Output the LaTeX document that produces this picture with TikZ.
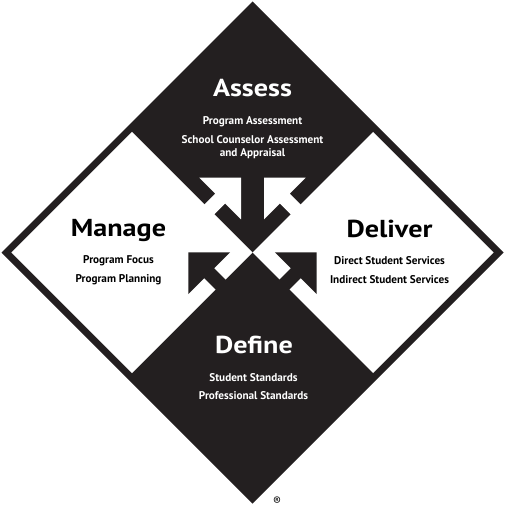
\documentclass[tikz,border=0pt]{standalone}
\usepackage{fontspec}
\setmainfont{PT Sans}
\newfontfamily\titlefont[FakeStretch=1.15]{PT Sans}
\definecolor{diagblack}{RGB}{35,31,32}
\begin{document}
\begin{tikzpicture}[x=1pt,y=-1pt,
  title/.style={font=\titlefont\bfseries\fontsize{24.5}{24.5}\selectfont, anchor=base, inner sep=0pt},
  sub/.style={font=\bfseries\fontsize{11.2}{11.2}\selectfont, anchor=base, inner sep=0pt},
  ontext/.style={text=white},
  arrowshape/.pic={\path[pic actions] (0,0) -- (-29.5,29.5) -- (-29.5,7) -- (-54,7) -- (-54,-7) -- (-29.5,-7) -- (-29.5,-29.5) -- cycle;}
]
\useasboundingbox (0,0) rectangle (507,513);
\fill[white] (0,0) rectangle (507,513);
% diamond
\fill[diagblack] (252.5,1.5) -- (503.5,252.5) -- (252.5,503.5) -- (1.5,252.5) -- cycle;
% white quadrants
\fill[white] (131.95,131.95) -- (252.5,252.5) -- (131.95,373.05) -- (11.4,252.5) -- cycle;
\fill[white] (373.05,131.95) -- (493.6,252.5) -- (373.05,373.05) -- (252.5,252.5) -- cycle;
% arrows
\pic[fill=white, rotate=45] at (241,177.7) {arrowshape};
\pic[fill=white, rotate=135] at (264,177.7) {arrowshape};
\pic[fill=diagblack, rotate=135] at (188.3,252.3) {arrowshape};
\pic[fill=diagblack, rotate=45] at (316.7,252.3) {arrowshape};
% texts
\node[title, ontext] (assess) at (252.5,96.7) {Assess};
\node[sub, ontext] (assess1) at (252.5,124.3) {Program Assessment};
\node[sub, ontext] (assess2) at (252.5,144) {School Counselor Assessment};
\node[sub, ontext] (assess3) at (252.5,156.7) {and Appraisal};
\node[title] (manage) at (118.5,236) {Manage};
\node[sub] (manage1) at (118.5,263.3) {Program Focus};
\node[sub] (manage2) at (118.5,282) {Program Planning};
\node[title] (deliver) at (389.5,237) {Deliver};
\node[sub] (deliver1) at (389.5,264) {Direct Student Services};
\node[sub] (deliver2) at (389.5,283) {Indirect Student Services};
\node[title, ontext] (define) at (254,353) {Define};
\node[sub, ontext] (define1) at (253.5,381.7) {Student Standards};
\node[sub, ontext] (define2) at (253.5,399) {Professional Standards};
\node[font=\fontsize{12}{12}\selectfont, inner sep=0pt] (reg) at (277,501) {\textregistered};
\end{tikzpicture}
\end{document}
